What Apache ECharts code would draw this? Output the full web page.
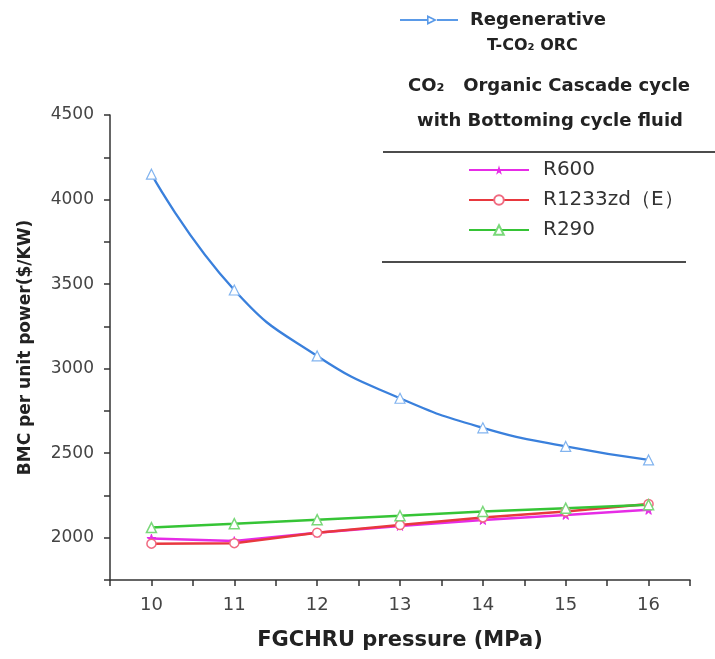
<!DOCTYPE html>
<html><head><meta charset="utf-8">
<script src="https://cdn.jsdelivr.net/npm/echarts@6/dist/echarts.min.js"></script>
<style>html,body{margin:0;padding:0;background:#fff}#c{width:715px;height:659px}</style>
</head><body><div id="c"></div>
<script>
const pressures = [10, 11, 12, 13, 14, 15, 16];
const regenerative = [4150, 3465, 3075, 2825, 2650, 2540, 2460];
const r600 = [1995, 1980, 2030, 2070, 2105, 2135, 2165];
const r1233 = [1965, 1968, 2030, 2075, 2120, 2155, 2200];
const r290 = [2060, 2083, 2107, 2130, 2155, 2175, 2195];
const xTicks = [10, 11, 12, 13, 14, 15, 16];
const yTicks = [2000, 2500, 3000, 3500, 4000, 4500];

const pair = a => pressures.map((p, i) => [p, a[i]]);
const chart = echarts.init(document.getElementById('c'));
const DJ = '"DejaVu Sans", sans-serif';
const triIcon = 'path://M0,6 L27,6 L27,8 L0,8 Z M27,2 L37,7 L27,12 Z M28.6,4.7 L28.6,9.3 L33.4,7 Z M37,6 L58,6 L58,8 L37,8 Z';
chart.setOption({
  animation: false,
  grid: {left: 110, right: 25, top: 115, bottom: 79},
  xAxis: {
    type: 'value', min: 9.5, max: 16.5, interval: 0.5,
    name: 'FGCHRU pressure (MPa)', nameLocation: 'middle', nameGap: 50,
    nameTextStyle: {fontFamily: DJ, fontWeight: 'bold', fontSize: 21, color: '#222'},
    axisLine: {lineStyle: {color: '#333', width: 1.5}},
    axisTick: {lineStyle: {color: '#333', width: 1.5}, length: 6},
    axisLabel: {fontFamily: DJ, fontSize: 18, color: '#444', margin: 16,
      formatter: v => xTicks.includes(v) ? String(v) : ''},
    splitLine: {show: false}
  },
  yAxis: {
    type: 'value', min: 1750, max: 4500, interval: 250,
    name: 'BMC per unit power($/KW)', nameLocation: 'middle', nameGap: 76,
    nameTextStyle: {fontFamily: DJ, fontWeight: 'bold', fontSize: 17, color: '#222'},
    axisLine: {show: true, lineStyle: {color: '#333', width: 1.5}},
    axisTick: {show: true, lineStyle: {color: '#333', width: 1.5}, length: 6},
    axisLabel: {fontFamily: DJ, fontSize: 17, color: '#444', margin: 16,
      formatter: v => yTicks.includes(v) ? String(v) : ''},
    splitLine: {show: false}
  },
  legend: [{
    left: 400, top: 11, padding: 0, itemWidth: 58, itemHeight: 14,
    data: [{name: 'Regenerative', icon: triIcon, itemStyle: {color: '#5a9ae8', borderWidth: 0}}],
    textStyle: {fontFamily: DJ, fontWeight: 'bold', fontSize: 18, color: '#222', padding: [0, 0, 0, 7]}
  }, {
    left: 468, top: 160, padding: 0, orient: 'vertical', itemWidth: 60, itemHeight: 12, itemGap: 10,
    data: ['R600', 'R1233zd（E）', 'R290'],
    textStyle: {fontFamily: DJ, fontSize: 20, color: '#333', padding: [0, 0, 0, 9]}
  }],
  graphic: [
    {type: 'text', left: 487, top: 38, style: {text: 'T-CO₂ ORC', font: 'bold 16px "DejaVu Sans"', fill: '#222'}},
    {type: 'text', left: 408, top: 77, style: {text: 'CO₂   Organic Cascade cycle', font: 'bold 18px "DejaVu Sans"', fill: '#222'}},
    {type: 'text', left: 417, top: 112, style: {text: 'with Bottoming cycle fluid', font: 'bold 18px "DejaVu Sans"', fill: '#222'}},
    {type: 'line', shape: {x1: 383, y1: 152, x2: 715, y2: 152}, style: {stroke: '#111', lineWidth: 1.5}},
    {type: 'line', shape: {x1: 382, y1: 262, x2: 686, y2: 262}, style: {stroke: '#111', lineWidth: 1.5}}
  ],
  series: [
    {name: 'Regenerative', type: 'line', smooth: 0.5, data: pair(regenerative),
      symbol: 'triangle', symbolSize: 10, color: '#3a80dc',
      lineStyle: {width: 2.3, color: '#3a80dc'},
      itemStyle: {color: '#fff', borderColor: '#82b4ef', borderWidth: 1.2}},
    {name: 'R600', type: 'line', data: pair(r600),
      symbol: 'path://M50,0 L61,35 L98,35 L68,57 L79,91 L50,70 L21,91 L32,57 L2,35 L39,35 Z',
      symbolSize: 9, color: '#e62ce6',
      lineStyle: {width: 2.5, color: '#e62ce6'},
      itemStyle: {color: '#e62ce6', borderColor: '#e62ce6'}},
    {name: 'R1233zd（E）', type: 'line', data: pair(r1233),
      symbol: 'circle', symbolSize: 9, color: '#e8383e',
      lineStyle: {width: 2.5, color: '#e8383e'},
      itemStyle: {color: '#fff', borderColor: '#f06a80', borderWidth: 1.5}},
    {name: 'R290', type: 'line', data: pair(r290),
      symbol: 'triangle', symbolSize: 10, color: '#36c436',
      lineStyle: {width: 2.5, color: '#36c436'},
      itemStyle: {color: '#fff', borderColor: '#7ad87a', borderWidth: 1.5}}
  ]
});
</script></body></html>
